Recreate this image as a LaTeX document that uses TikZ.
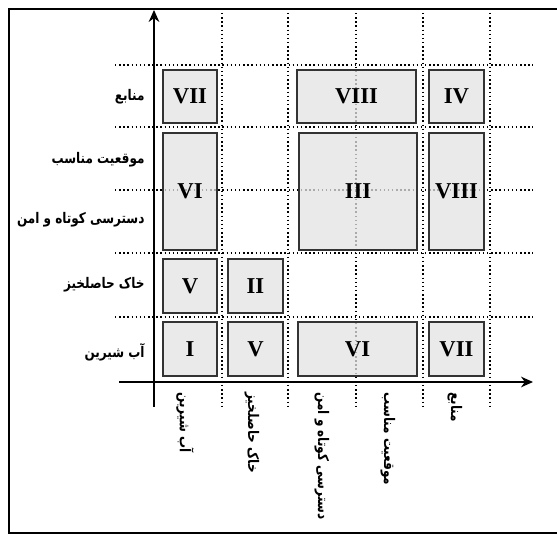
\documentclass[tikz,border=0pt]{standalone}
\usepackage{fontspec}
\setmainfont{Liberation Serif}
\newfontfamily\farsifont[Script=Arabic,FakeStretch=0.82]{DejaVu Sans}
\TeXXeTstate=1
\usetikzlibrary{arrows.meta}

\tikzset{
cellbox/.style={draw=black!80, line width=1pt, fill=black!11, fill opacity=0.75, text opacity=1, inner sep=0pt, font=\fontsize{17}{17}\selectfont\bfseries},
gridline/.style={dotted, line width=1.1pt},
rowlabel/.style={anchor=east, inner sep=0pt, font=\farsifont\bfseries\fontsize{11}{13}\selectfont},
collabel/.style={anchor=west, rotate=-90, inner sep=0pt, font=\farsifont\bfseries\fontsize{11}{13}\selectfont}}
\tikzset{every picture/.style={line width=0.75pt}}

\begin{document}
\begin{tikzpicture}[x=0.75pt,y=0.75pt,yscale=-1,xscale=1]
\useasboundingbox (0,0) rectangle (557,534);

%Shape: Frame
\draw [line width=1.6pt] (9,560) -- (9,9) -- (570,9) ;
\draw [line width=1.6pt] (9,533) -- (570,533) ;

%Grid Lines
\foreach \gx in {222,288,356,423,490}
  \draw [gridline] (\gx,13) -- (\gx,407) ;
\foreach \gy in {65,127,190,253,317}
  \draw [gridline] (115,\gy) -- (533,\gy) ;

%Axes
\coordinate (ybot) at (154,407) ;
\coordinate (ytop) at (154,10) ;
\coordinate (xleft) at (119,382) ;
\coordinate (xright) at (533,382) ;
\draw [line width=1.2pt, -{Stealth[length=9pt,width=8pt]}] (ybot) -- (ytop) ;
\draw [line width=1.2pt, -{Stealth[length=9pt,width=8pt]}] (xleft) -- (xright) ;

%Shape: Rectangles, bottom row
\node [cellbox, minimum width=54pt*0.75, minimum height=54pt*0.75] (bI) at (190,349) {I};
\node [cellbox, minimum width=55pt*0.75, minimum height=54pt*0.75] (bVa) at (255.5,349) {V};
\node [cellbox, minimum width=119pt*0.75, minimum height=54pt*0.75] (bVIa) at (357.5,349) {VI};
\node [cellbox, minimum width=55pt*0.75, minimum height=54pt*0.75] (bVIIa) at (456.5,349) {VII};
%Shape: Rectangles, second row
\node [cellbox, minimum width=54pt*0.75, minimum height=54pt*0.75] (bVb) at (190,286) {V};
\node [cellbox, minimum width=55pt*0.75, minimum height=54pt*0.75] (bII) at (255.5,286) {II};
%Shape: Rectangles, middle rows
\node [cellbox, minimum width=54pt*0.75, minimum height=117pt*0.75] (bVIb) at (190,191.5) {VI};
\node [cellbox, minimum width=118pt*0.75, minimum height=117pt*0.75] (bIII) at (358,191.5) {III};
\node [cellbox, minimum width=55pt*0.75, minimum height=117pt*0.75] (bVIIIa) at (456.5,191.5) {VIII};
%Shape: Rectangles, top row
\node [cellbox, minimum width=54pt*0.75, minimum height=53pt*0.75] (bVIIb) at (190,96.5) {VII};
\node [cellbox, minimum width=119pt*0.75, minimum height=53pt*0.75] (bVIIIb) at (356.5,96.5) {VIII};
\node [cellbox, minimum width=55pt*0.75, minimum height=53pt*0.75] (bIV) at (456.5,96.5) {IV};

% Text Node
\node [rowlabel] (rSource) at (145,97) {\beginR منابع\endR};
% Text Node
\node [rowlabel] (rPlace) at (145,160) {\beginR موقعیت مناسب\endR};
% Text Node
\node [rowlabel] (rAccess) at (145,220) {\beginR دسترسی کوتاه و امن\endR};
% Text Node
\node [rowlabel] (rSoil) at (145,285) {\beginR خاک حاصلخیز\endR};
% Text Node
\node [rowlabel] (rWater) at (145,352) {\beginR آب شیرین\endR};

% Text Node
\node [collabel] (cWater) at (185,392) {\beginR آب شیرین\endR};
% Text Node
\node [collabel] (cSoil) at (252,392) {\beginR خاک حاصلخیز\endR};
% Text Node
\node [collabel] (cAccess) at (322,392) {\beginR دسترسی کوتاه و امن\endR};
% Text Node
\node [collabel] (cPlace) at (388,392) {\beginR موقعیت مناسب\endR};
% Text Node
\node [collabel] (cSource) at (455,392) {\beginR منابع\endR};

\end{tikzpicture}
\end{document}
